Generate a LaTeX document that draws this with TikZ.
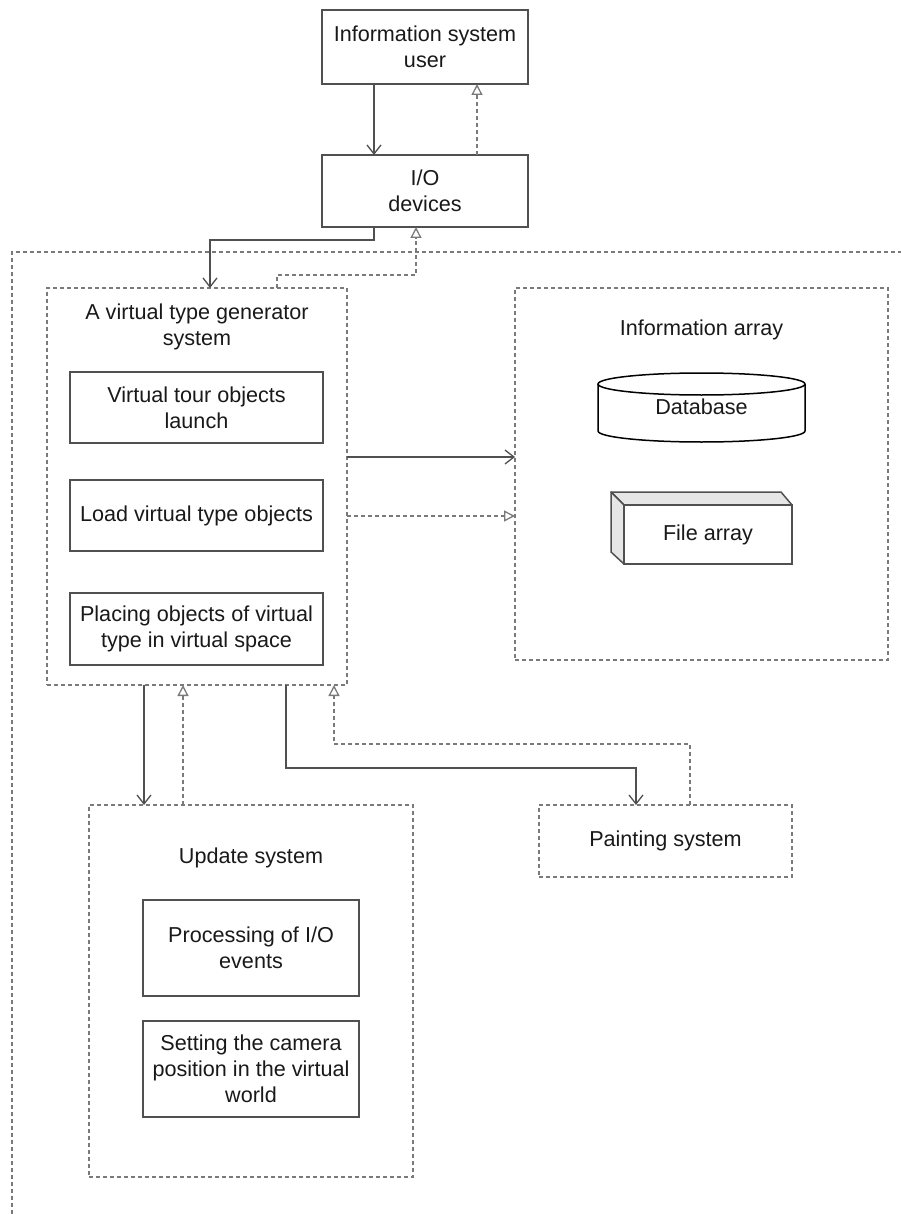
\documentclass[tikz,border=0pt]{standalone}
\usepackage{fontspec}
\setmainfont{Liberation Sans}
\usetikzlibrary{arrows.meta}
\definecolor{solidc}{HTML}{505050}
\definecolor{dashc}{HTML}{7A7A7A}
\definecolor{facec}{HTML}{E6E6E6}
\begin{document}
\begin{tikzpicture}[x=1pt,y=-1pt,
  font=\fontsize{21.6}{26}\selectfont,
  every node/.style={inner sep=0pt,outer sep=0pt,align=center,text=black!90},
  sbox/.style={draw=solidc,line width=1.8pt,fill=white},
  dbox/.style={draw=dashc,line width=1.5pt,dash pattern=on 4pt off 3pt},
  sarr/.style={draw=solidc,line width=1.3pt,-{Straight Barb[length=9pt,width=14pt,line width=1.3pt]}},
  darr/.style={draw=dashc,line width=1.3pt,dash pattern=on 4pt off 3pt,-{Triangle[open,length=11pt,width=11pt,line width=1.3pt,sep=0pt]}}
]
\useasboundingbox (0,0) rectangle (901,1214);
% outer frame (clipped)
\draw[dbox] (12,1214) -- (12,252) -- (901,252);

% top boxes
\node[sbox,minimum width=206,minimum height=74] (user) at (425,47) {Information system\\user};
\node[sbox,minimum width=206,minimum height=72] (io) at (425,191) {I/O\\devices};

% generator
\node[dbox,minimum width=300,minimum height=397] (gen) at (197,486.5) {};
\node (gentitle) at (197,327) {A virtual type generator\\system};
\node[sbox,minimum width=253,minimum height=71] (launch) at (196.5,407.5) {Virtual tour objects\\launch};
\node[sbox,minimum width=253,minimum height=71] (load) at (196.5,515.5) {Load virtual type objects};
\node[sbox,minimum width=253,minimum height=72] (place) at (196.5,629) {Placing objects of virtual\\type in virtual space};

% information array
\node[dbox,minimum width=373,minimum height=372] (info) at (701.5,474) {};
\node (infotitle) at (701.5,330) {Information array};
% database cylinder
\draw[draw=black,line width=1.5pt,fill=white] (598,384) -- (598,431) arc[start angle=180,end angle=360,x radius=103.5pt,y radius=11pt] -- (805,384);
\draw[draw=black,line width=1.5pt,fill=white] (701.5,384) ellipse [x radius=103.5pt,y radius=11pt];
\node (db) at (701.5,407) {Database};
% file array
\draw[draw=solidc,line width=1.5pt,fill=facec,line join=round] (611,492) -- (781,492) -- (792,505) -- (624,505) -- cycle;
\draw[draw=solidc,line width=1.5pt,fill=facec,line join=round] (611,492) -- (624,505) -- (624,564) -- (611,552) -- cycle;
\node[draw=solidc,line width=1.5pt,fill=white,minimum width=168,minimum height=59] (fa) at (708,534.5) {File array};

% update system
\node[dbox,minimum width=324,minimum height=372] (upd) at (251,991) {};
\node (updtitle) at (251,858) {Update system};
\node[sbox,minimum width=216,minimum height=96] (proc) at (251,948) {Processing of I/O\\events};
\node[sbox,minimum width=216,minimum height=96] (cam) at (251,1069) {Setting the camera\\position in the virtual\\world};

% painting system
\node[dbox,minimum width=253,minimum height=72] (paint) at (665.5,841) {Painting system};

% connectors
\draw[sarr] (user.south -| 374,0) -- (io.north -| 374,0);
\draw[darr] (io.north -| 477,0) -- (user.south -| 477,0);
\draw[sarr] (io.south -| 374,0) -- (374,240) -| (gen.north -| 210,0);
\draw[darr] (gen.north -| 277,0) -- (277,275) -| (io.south -| 416,0);
\draw[sarr] (gen.east |- 0,457) -- (info.west |- 0,457);
\draw[darr] (gen.east |- 0,516) -- (info.west |- 0,516);
\draw[sarr] (gen.south -| 144,0) -- (upd.north -| 144,0);
\draw[darr] (upd.north -| 183,0) -- (gen.south -| 183,0);
\draw[sarr] (gen.south -| 286,0) -- (286,768) -| (paint.north -| 636,0);
\draw[darr] (paint.north -| 690,0) -- (690,744) -| (gen.south -| 334,0);
\end{tikzpicture}
\end{document}
